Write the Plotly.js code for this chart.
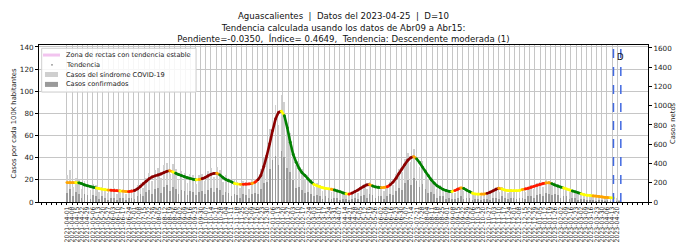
<!DOCTYPE html>
<html><head><meta charset="utf-8">
<script src="https://cdn.plot.ly/plotly-3.0.1.min.js"></script>
<style>html,body{margin:0;padding:0;background:#fff}#chart{width:677px;height:242px}</style>
</head><body><div id="chart"></div>
<script>
// ---------- data ----------
const startDate = '2021-04-01';   // first day of the series
const stepDays = 4;               // spacing of the sampled values
const reportDate = '2023-04-25';
const cutoffDate = '2023-04-15';
const tickStart = '2021-04-01';
const tickStepDays = 7;

const trendValues = [
17.5,17.5,17.5,17.5,17.3,16.6,15.4,14.6,13.9,13.3,
12.6,12.1,11.6,11.1,10.8,10.6,10.4,10.2,10.0,9.8,
9.5,9.4,9.8,10.4,11.8,14.0,16.5,18.8,21.0,22.6,
23.6,24.4,25.3,26.5,27.7,28.2,27.2,26.0,24.8,23.8,
22.8,22.0,21.2,20.5,20.0,20.3,21.0,22.0,23.5,25.0,
25.8,26.0,24.5,22.3,20.5,19.2,18.2,16.8,16.2,16.0,
16.0,16.1,16.3,16.7,17.8,20.0,24.0,32.0,41.5,52.5,
64.5,75.0,81.0,82.0,78.0,67.0,54.0,43.0,36.0,30.5,
26.5,24.0,21.0,18.3,16.0,14.8,13.8,12.9,12.3,11.9,
11.5,10.9,10.0,9.2,8.2,7.4,7.1,8.0,9.4,10.8,
12.5,14.0,15.5,15.7,14.5,13.6,13.2,12.9,13.2,13.7,
15.5,18.0,21.5,25.8,29.8,33.8,37.7,40.0,41.0,39.0,
35.7,31.5,27.5,23.8,19.9,17.0,14.5,12.9,11.4,10.4,
9.6,9.4,10.3,11.5,12.8,12.3,10.8,9.4,8.0,7.2,
7.1,7.1,7.2,7.8,8.8,10.0,11.5,12.4,11.8,10.8,
10.3,10.2,10.2,10.2,10.4,11.2,11.8,12.4,13.3,14.2,
15.1,15.9,16.6,17.2,17.4,16.6,15.4,14.4,13.5,12.7,
11.8,10.9,10.0,9.2,8.3,7.4,6.5,6.1,5.8,5.5,
5.3,5.0,4.6,4.2,4.0,3.8,3.6
];
// trend class per point: D strong rise, R rise, O slight rise, Y stable, G descending
const trendClass = ['OOOY','GGGGGG','YYYY','O','RRR','Y','OO','RR','DDDDDDDDDDDD','O','Y','GGGGGGG',
 'Y','O','DDDDD','O','GGGGG','YY','O','RRR','O','R','DDDDDDDD','Y','GGGGGGGGGG','YYYYYY','O','GGGG',
 'Y','R','DDDDDD','O','GGG','OO','R','DDDDDDDD','O','GGGGGGGGGGGG','Y','RR','O','GGG','YYY','OO',
 'DDDD','O','YYYYYYY','O','RRRRRRR','OO','GGGG','YYY','GGG','YYYY','OOOOOO','YY'].join('');

const sindromeValues = [
24,29,14,22,20,12,19,17,11,16,
15,9,14,13,8,12,13,7,12,11,
7,11,12,9,15,17,13,22,26,19,
29,31,22,33,35,25,34,30,20,28,
26,17,25,24,16,24,25,19,28,31,
23,32,29,18,24,22,15,20,18,13,
19,18,12,20,21,18,30,40,42,66,
80,88,70,97,90,70,62,48,33,35,
30,21,24,20,14,17,15,10,14,13,
9,12,11,7,9,8,6,9,10,8,
14,16,12,18,16,11,15,14,10,15,
18,15,25,30,27,39,44,36,48,44,
32,37,30,21,23,18,12,15,13,9,
11,10,8,12,14,10,13,11,7,8,
8,5,8,9,7,11,12,9,14,12,
8,12,11,9,12,12,9,14,15,12,
17,18,14,20,19,15,18,16,11,14,
13,9,11,10,7,9,8,5,7,6,
4,6,5,4,5,4,3,4,2
];
const confirmadosValues = [
8,12,5,9,7,4,7,6,3,6,
5,3,5,4,2,4,4,2,4,4,
2,4,4,3,5,7,5,9,11,7,
12,13,8,14,15,10,14,12,7,11,
10,6,10,9,6,9,10,7,11,13,
9,13,11,6,9,8,5,7,6,4,
7,6,4,7,8,7,12,17,18,30,
38,42,33,46,41,31,27,20,13,14,
11,8,9,7,5,6,5,3,5,4,
3,4,4,2,3,3,2,3,4,3,
5,6,4,7,6,4,5,5,3,5,
7,6,10,13,11,17,20,15,22,19,
14,16,12,8,9,7,4,5,5,3,
4,3,3,4,5,3,4,4,2,3,
3,2,3,3,2,4,4,3,5,4,
3,4,4,3,4,4,3,5,5,4,
6,7,5,8,7,6,7,6,4,5,
5,3,4,4,2,3,3,2,2,2,
1,2,2,1,2,1,1,1,1
];
const leftTicks = [0,20,40,60,80,100,120,140];
const rightTicks = [0,200,400,600,800,1000,1200,1400,1600];
const legendLabels = ['Zona de rectas con tendencia estable','Tendencia','Casos del síndrome COVID-19','Casos confirmados'];
const titleLines = ['Aguascalientes  |  Datos del 2023-04-25  |  D=10',
  'Tendencia calculada usando los datos de Abr09 a Abr15:',
  'Pendiente=-0.0350,  Índice= 0.4649,  Tendencia: Descendente moderada (1)'];

// ---------- helpers ----------
const DAY = 86400000;
const t0 = Date.parse(startDate + 'T00:00:00Z');
const iso = ms => new Date(ms).toISOString().slice(0,10);
const dateAt = i => iso(t0 + i * stepDays * DAY);
const trendX = trendValues.map((_, i) => dateAt(i));
const barX = sindromeValues.map((_, i) => dateAt(i));
const classColor = {D:'#8b0000', R:'#ff1a00', O:'#ffa500', Y:'#ffff00', G:'#008000'};
const cls = i => trendClass[i] || 'Y';

const tickVals = [];
for (let ms = Date.parse(tickStart + 'T00:00:00Z'); ms <= Date.parse(reportDate + 'T00:00:00Z'); ms += tickStepDays * DAY) tickVals.push(iso(ms));

const spanStart = t0;
const spanEnd = Date.parse(reportDate + 'T00:00:00Z');
const pad = (spanEnd - spanStart) * 0.05;
const xRange = [iso(spanStart - pad), iso(spanEnd + pad)];
const leftMax = 141.8, rightMax = 1631;

// coloured trend segments, one trace per class colour
const segTraces = Object.keys(classColor).map(c => {
  const xs = [], ys = [];
  for (let i = 0; i < trendValues.length - 1; i++) {
    if (cls(i) === c) { xs.push(trendX[i], trendX[i+1], null); ys.push(trendValues[i], trendValues[i+1], null); }
  }
  return {x:xs, y:ys, type:'scatter', mode:'lines', showlegend:false, hoverinfo:'skip',
    line:{color:classColor[c], width:2.6}, connectgaps:false};
});

const traces = [
  {x:barX, y:sindromeValues, type:'bar', name:legendLabels[2], showlegend:false,
   marker:{color:'#d0d0d0', line:{width:0}}, width:2.4*DAY},
  {x:barX, y:confirmadosValues, type:'bar', name:legendLabels[3], showlegend:false,
   marker:{color:'#9a9a9a', line:{width:0}}, width:2.4*DAY},
  ...segTraces,
  {x:trendX, y:trendValues, type:'scatter', mode:'markers', name:legendLabels[1], showlegend:false, hoverinfo:'skip',
   marker:{color:trendValues.map((_, i) => classColor[cls(i)]), size:2.8, line:{width:0}}},
  {x:[startDate], y:[0], yaxis:'y2', type:'scatter', mode:'markers', showlegend:false,
   hoverinfo:'skip', marker:{opacity:0}}
];

// manual legend (paper coordinates of the plot area)
const L = {x0:0.0044, x1:0.258, y0:0.70, y1:0.979, rows:[0.936,0.874,0.812,0.749], sx0:0.0066, sx1:0.0345, tx:0.041};
const legendShapes = [
  {type:'rect', xref:'paper', yref:'paper', x0:L.x0, x1:L.x1, y0:L.y0, y1:L.y1,
   fillcolor:'rgba(255,255,255,0.85)', line:{color:'#d0d0d0', width:1}, layer:'above'},
  {type:'line', xref:'paper', yref:'paper', x0:L.sx0, x1:L.sx1, y0:L.rows[0], y1:L.rows[0],
   line:{color:'#f2c4ef', width:3}, layer:'above'},
  {type:'circle', xref:'paper', yref:'paper', x0:0.0205, x1:0.0222, y0:L.rows[1]-0.0055, y1:L.rows[1]+0.0055,
   fillcolor:'#333', line:{width:0}, layer:'above'},
  {type:'rect', xref:'paper', yref:'paper', x0:0.0098, x1:0.0312, y0:L.rows[2]-0.016, y1:L.rows[2]+0.016,
   fillcolor:'#cfcfcf', line:{width:0}, layer:'above'},
  {type:'rect', xref:'paper', yref:'paper', x0:0.0098, x1:0.0312, y0:L.rows[3]-0.016, y1:L.rows[3]+0.016,
   fillcolor:'#9a9a9a', line:{width:0}, layer:'above'}
];
const legendAnnots = legendLabels.map((t, k) => ({text:t, xref:'paper', yref:'paper', x:L.tx, y:L.rows[k],
  xanchor:'left', yanchor:'middle', showarrow:false, font:{size:6.6, color:'#222'}}));

const layout = {
  width:677, height:242,
  margin:{l:39, r:29, t:45, b:40, pad:0},
  paper_bgcolor:'#fff', plot_bgcolor:'#fff',
  font:{family:'DejaVu Sans, sans-serif', size:7.2, color:'#222'},
  title:{text:titleLines.join('<br>'), font:{size:8.6, color:'#111'},
    x:0.5, xref:'paper', xanchor:'center', y:0.92, yref:'container', yanchor:'top'},
  barmode:'overlay', bargap:0,
  showlegend:false,
  xaxis:{type:'date', range:xRange, tickmode:'array', tickvals:tickVals, tickformat:'%Y-%m-%d',
    tickangle:-90, tickfont:{size:6.2}, ticks:'outside', ticklen:2, tickcolor:'#000',
    ticklabelstandoff:-1,
    minor:{tickmode:'linear', tick0:tickStart, dtick:tickStepDays*DAY, ticks:'outside', ticklen:2,
      tickcolor:'#000', showgrid:false},
    showgrid:true, gridcolor:'#c6c6c6', gridwidth:1, zeroline:false,
    showline:true, mirror:true, linecolor:'#000', linewidth:1},
  yaxis:{range:[0,leftMax], tickmode:'array', tickvals:leftTicks, ticks:'outside', ticklen:3,
    tickcolor:'#000', showgrid:true, gridcolor:'#c6c6c6', zeroline:false,
    showline:true, linecolor:'#000', linewidth:1,
    title:{text:'Casos por cada 100K habitantes', font:{size:6.8}, standoff:2}},
  yaxis2:{overlaying:'y', side:'right', range:[0,rightMax], tickmode:'array', tickvals:rightTicks,
    ticks:'outside', ticklen:3, tickcolor:'#000', showgrid:false, zeroline:false,
    showline:true, linecolor:'#000', linewidth:1,
    title:{text:'Casos netos', font:{size:6.8}, standoff:5}},
  shapes:[cutoffDate, reportDate].map(d => ({type:'line', xref:'x', yref:'paper', x0:d, x1:d, y0:0, y1:1,
    line:{color:'#4169e1', width:1.5, dash:'dash'}})).concat(legendShapes),
  annotations:[{x:reportDate, y:131, xref:'x', yref:'y', text:'D', showarrow:false,
    font:{size:8.5, color:'#111'}, xanchor:'center'}].concat(legendAnnots)
};

Plotly.newPlot('chart', traces, layout, {displayModeBar:false, staticPlot:true});
</script></body></html>
